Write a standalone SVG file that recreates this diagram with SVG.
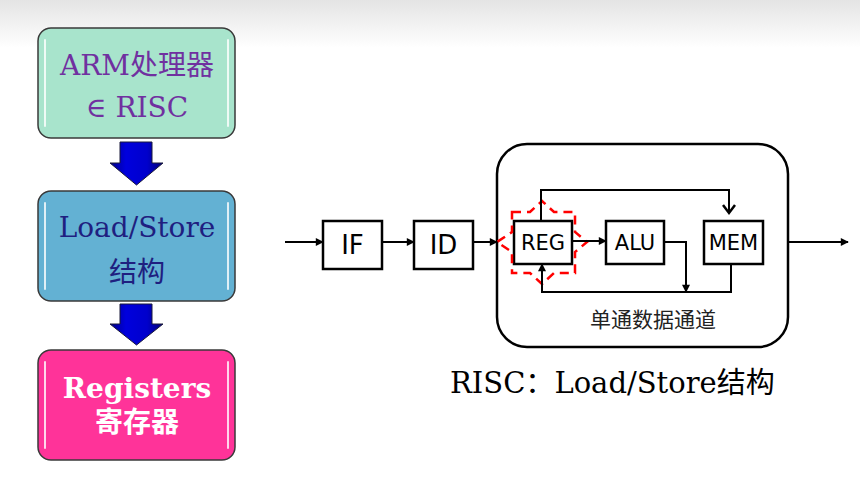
<svg xmlns="http://www.w3.org/2000/svg" width="860" height="483" viewBox="0 0 860 483">
<defs>
<linearGradient id="bg" x1="0" y1="0" x2="0" y2="1">
<stop offset="0" stop-color="#e4e4e4"/>
<stop offset="1" stop-color="#ffffff"/>
</linearGradient>
<linearGradient id="blk" x1="0" y1="0" x2="1" y2="0">
<stop offset="0" stop-color="#000088"/>
<stop offset="0.3" stop-color="#0000dd"/>
<stop offset="0.7" stop-color="#0000cc"/>
<stop offset="1" stop-color="#000077"/>
</linearGradient>
<marker id="ah" viewBox="0 0 10 10" refX="9" refY="5" markerWidth="9" markerHeight="8" orient="auto" markerUnits="userSpaceOnUse">
<path d="M0,0 L10,5 L0,10 Z" fill="#000"/>
</marker>
</defs>
<style>
.lbox{stroke:#3a3a3a;stroke-width:1.5}
.hl{stroke:#ffffff;stroke-width:2;stroke-opacity:0.8;stroke-linecap:round}
.st{font-family:"DejaVu Serif","Noto Sans CJK SC",serif;font-size:28px;text-anchor:middle}
.sb{font-family:"DejaVu Serif","Noto Sans CJK SC",serif;font-size:28px;font-weight:bold;text-anchor:middle;fill:#ffffff}
.bx{fill:#ffffff;stroke:#000;stroke-width:2.5}
.bt{font-family:"DejaVu Sans",sans-serif;font-size:21px;text-anchor:middle;fill:#000}
.bt2{font-family:"DejaVu Sans",sans-serif;font-size:26px;text-anchor:middle;fill:#000}
.ln{fill:none;stroke:#000;stroke-width:2}
.cap{font-family:"DejaVu Serif",serif;font-size:29px;fill:#000}
.cjk{font-family:"Noto Sans CJK SC",sans-serif}
.blka{fill:url(#blk);stroke:#1a1a3a;stroke-width:1}
</style>
<rect x="0" y="0" width="860" height="48" fill="url(#bg)"/>
<rect x="0" y="48" width="860" height="435" fill="#ffffff"/>

<g id="arm">
<rect class="lbox" x="38" y="28" width="197" height="110" rx="13" fill="#a8e4cc"/>
<line class="hl" x1="45" y1="40" x2="45" y2="126"/>
<line class="hl" x1="228" y1="40" x2="228" y2="126"/>
<text class="st" x="137" y="75" fill="#7030a0">ARM处理器</text>
<text class="st" x="137" y="117" fill="#7030a0">∈ RISC</text>
</g>
<g id="ls">
<rect class="lbox" x="38" y="191" width="197" height="110" rx="13" fill="#63b1d3"/>
<line class="hl" x1="45" y1="203" x2="45" y2="289"/>
<line class="hl" x1="228" y1="203" x2="228" y2="289"/>
<text class="st" x="137" y="237" fill="#1f1f80">Load/Store</text>
<text class="st" x="137" y="282" fill="#1f1f80">结构</text>
</g>
<g id="regs">
<rect class="lbox" x="38" y="350" width="197" height="110" rx="13" fill="#ff3399"/>
<line class="hl" x1="45" y1="362" x2="45" y2="448"/>
<line class="hl" x1="228" y1="362" x2="228" y2="448"/>
<text class="sb" x="137" y="398">Registers</text>
<text class="sb" x="137" y="432">寄存器</text>
</g>
<g id="blockarrows">
<path class="blka" d="M120,142 L152,142 L152,163 L163,163 L136.5,185 L110,163 L120,163 Z"/>
<path class="blka" d="M120,304 L152,304 L152,324 L163,324 L136.5,345 L110,324 L120,324 Z"/>
</g>

<g id="datapath">
<rect x="497" y="144" width="291" height="203" rx="30" fill="#ffffff" stroke="#000" stroke-width="2.5"/>
<text x="653" y="327" font-family="Noto Sans CJK SC, sans-serif" font-size="21" text-anchor="middle" fill="#222">单通数据通道</text>
</g>
<g id="if">
<rect class="bx" x="323" y="221" width="59" height="48"/>
<text class="bt2" x="352.5" y="254">IF</text>
</g>
<g id="id">
<rect class="bx" x="414" y="221" width="59" height="48"/>
<text class="bt2" x="443.5" y="254">ID</text>
</g>
<g id="reg">
<rect class="bx" x="514" y="221" width="58" height="43"/>
<text class="bt" x="543" y="250">REG</text>
</g>
<g id="alu">
<rect class="bx" x="606" y="221" width="58" height="43"/>
<text class="bt" x="635" y="250">ALU</text>
</g>
<g id="mem">
<rect class="bx" x="704" y="221" width="59" height="43"/>
<text class="bt" x="733.5" y="250">MEM</text>
</g>
<g id="highlight">
<path d="M512,212 L530,212 L542,201 L554,212 L575,212 L575,232 L587,242 L575,252 L575,273 L554,273 L542,284 L530,273 L512,273 L512,252 L497,242 L512,232 Z" fill="none" stroke="#ff0000" stroke-width="2.5" stroke-dasharray="9,6"/>
</g>
<g id="connectors">
<line class="ln" x1="285" y1="242" x2="323" y2="242" marker-end="url(#ah)"/>
<line class="ln" x1="382" y1="242" x2="414" y2="242" marker-end="url(#ah)"/>
<line class="ln" x1="473" y1="242" x2="497" y2="242" marker-end="url(#ah)"/>
<line class="ln" x1="572" y1="241" x2="606" y2="241" marker-end="url(#ah)"/>
<polyline class="ln" points="541,221 541,190 729,190 729,212"/>
<polyline points="723,205 729,213 735,205" fill="none" stroke="#000" stroke-width="2.5"/>
<polyline class="ln" points="664,242 686,242 686,292" marker-end="url(#ah)"/>
<polyline class="ln" points="731,264 731,292 542,292 542,264" marker-end="url(#ah)"/>
<line class="ln" x1="788" y1="242" x2="848" y2="242" marker-end="url(#ah)"/>
</g>
<text class="cap" x="450" y="393">RISC<tspan class="cjk">：</tspan>Load/Store<tspan class="cjk">结构</tspan></text>
</svg>
